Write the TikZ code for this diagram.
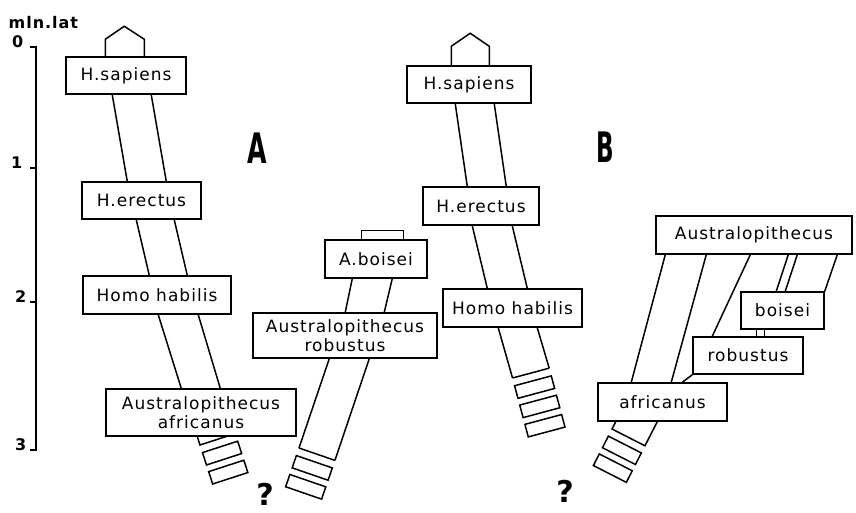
\documentclass[tikz,border=0pt]{standalone}
\usepackage{fontspec}
\setmainfont[LetterSpace=6]{DejaVu Sans}
\usetikzlibrary{calc,backgrounds}

\begin{document}
\begin{tikzpicture}[x=1pt, y=-1pt, line width=1.5pt, font=\fontsize{17}{19}\selectfont]
\tikzstyle{taxon}=[draw, fill=white, align=center, inner sep=0pt]
\tikzstyle{scalenum}=[anchor=base east, inner sep=0pt, font=\fontsize{16}{16}\selectfont\bfseries]
\useasboundingbox (0,0) rectangle (856,512);
% time scale
\node[anchor=base west, inner sep=0pt, font=\fontsize{16}{16}\selectfont\bfseries] (unit) at (8,28) {mln.lat};
\node[scalenum] (t0) at (24,47) {0};
\node[scalenum] (t1) at (23,168) {1};
\node[scalenum] (t2) at (27,302) {2};
\node[scalenum] (t3) at (27,450) {3};
\draw (30,47) -- (36,47) -- (36,450) -- (30,450);
\draw (30,168) -- (36,168) (30,302) -- (36,302);
% scheme A
\node[taxon, minimum width=120pt, minimum height=37pt] (sapA) at (126,75.5) {H.sapiens};
\node[taxon, minimum width=119pt, minimum height=37pt] (ereA) at (141.5,200.5) {H.erectus};
\node[taxon, minimum width=148pt, minimum height=38pt] (habA) at (157,295) {Homo habilis};
\node[taxon, minimum width=190pt, minimum height=47pt] (afrA) at (201,412.5) {Australopithecus\\africanus};
\node[taxon, minimum width=102pt, minimum height=38pt] (boiA) at (376,259) {A.boisei};
\node[taxon, minimum width=184pt, minimum height=45pt] (robA) at (345,335.5) {Australopithecus\\robustus};
\node (labA) at (257.5,148) {\scalebox{0.6}[1]{\fontsize{42}{42}\selectfont\bfseries A}};
\node (qA) at (265,494) {\fontsize{30}{30}\selectfont\bfseries ?};
% scheme B
\node[taxon, minimum width=124pt, minimum height=37pt] (sapB) at (469,84.5) {H.sapiens};
\node[taxon, minimum width=116pt, minimum height=38pt] (ereB) at (481,206) {H.erectus};
\node[taxon, minimum width=139pt, minimum height=38pt] (habB) at (512.5,308) {Homo habilis};
\node[taxon, minimum width=196pt, minimum height=38pt] (ausB) at (754,235) {Australopithecus};
\node[taxon, minimum width=129pt, minimum height=38pt] (afrB) at (662.5,402) {africanus};
\node[taxon, minimum width=110pt, minimum height=37pt] (robB) at (748,355.5) {robustus};
\node[taxon, minimum width=83pt, minimum height=37pt] (boiB) at (782.5,310.5) {boisei};
\node (labB) at (605,147.5) {\scalebox{0.55}[1]{\fontsize{42}{42}\selectfont\bfseries B}};
\node (qB) at (565,491) {\fontsize{30}{30}\selectfont\bfseries ?};

\begin{scope}[on background layer]
\begin{scope}[line width=1.5pt]
% stems of A
\draw ($(sapA.north west)+(40,0)$) -- ++(0,-17) -- ++(19,-13) -- ++(20,13) -- ++(0,17);
\draw ($(sapA.south west)+(47,0)$) -- ($(ereA.north west)+(46,0)$);
\draw ($(sapA.south west)+(86,0)$) -- ($(ereA.north west)+(85,0)$);
\draw ($(ereA.south west)+(55,0)$) -- ($(habA.north west)+(67,0)$);
\draw ($(ereA.south west)+(93,0)$) -- ($(habA.north west)+(105,0)$);
\draw ($(habA.south west)+(76,0)$) -- ($(afrA.north west)+(76,0)$);
\draw ($(habA.south west)+(116,0)$) -- ($(afrA.north west)+(115,0)$);
\begin{scope}[shift={(200,445)}, rotate=18]
\draw (0,-20) -- (0,0) -- (37,0) -- (37,-20);
\foreach \y in {8,28} \draw (0,\y) rectangle (37,\y+13);
\end{scope}
\draw ($(boiA.north west)+(37,0)$) -- ++(0,-9) -| ($(boiA.north west)+(79,0)$);
\draw ($(boiA.south west)+(28,0)$) -- ($(robA.north west)+(93,0)$);
\draw ($(boiA.south west)+(68,0)$) -- ($(robA.north west)+(132,0)$);
\begin{scope}[shift={(299,448)}, rotate=-19]
\coordinate (robAl) at (0,0);
\coordinate (robAr) at (38,0);
\draw (robAl) -- (robAr);
\foreach \y in {8,28} \draw (0,\y) rectangle (38,\y+13);
\end{scope}
\draw ($(robA.south west)+(77,0)$) -- (robAl);
\draw ($(robA.south west)+(117,0)$) -- (robAr);
% stems of B
\draw ($(sapB.north west)+(45,0)$) -- ++(0,-19) -- ++(19,-13) -- ++(19,13) -- ++(0,19);
\draw ($(sapB.south west)+(49,0)$) -- ($(ereB.north west)+(45,0)$);
\draw ($(sapB.south west)+(88,0)$) -- ($(ereB.north west)+(84,0)$);
\draw ($(ereB.south west)+(50,0)$) -- ($(habB.north west)+(45,0)$);
\draw ($(ereB.south west)+(90,0)$) -- ($(habB.north west)+(85,0)$);
\begin{scope}[shift={(512.5,378)}, rotate=15]
\coordinate (habBl) at (0,0);
\coordinate (habBr) at (38,0);
\draw (habBl) -- (habBr);
\foreach \y in {8,28,48} \draw (0,\y) rectangle (38,\y+13);
\end{scope}
\draw ($(habB.south west)+(56,0)$) -- (habBl);
\draw ($(habB.south west)+(95,0)$) -- (habBr);
\draw ($(ausB.south west)+(10,0)$) -- ($(afrB.north west)+(34,0)$);
\draw ($(ausB.south west)+(51,0)$) -- ($(afrB.north west)+(74,0)$);
\draw ($(ausB.south west)+(95,0)$) -- ($(robB.north west)+(20,0)$);
\draw ($(ausB.south west)+(133,0)$) -- ($(boiB.north west)+(36,0)$);
\draw ($(ausB.south west)+(142,0)$) -- ($(boiB.north west)+(45,0)$);
\draw ($(ausB.south west)+(182,0)$) -- (boiB.north east);
\draw[line width=0.8pt] ($(boiB.south west)+(16,0)$) -- ($(robB.north west)+(64,0)$);
\draw[line width=0.8pt] ($(boiB.south west)+(24,0)$) -- ($(robB.north west)+(72,0)$);
\draw (robB.south west) -- ($(afrB.north west)+(85,0)$);
\begin{scope}[shift={(612,429)}, rotate=-27]
\draw (0,-32) -- (0,0) -- (37,0) -- (37,-32);
\foreach \y in {8,28} \draw (0,\y) rectangle (37,\y+13);
\end{scope}
\end{scope}
\end{scope}
\end{tikzpicture}
\end{document}
